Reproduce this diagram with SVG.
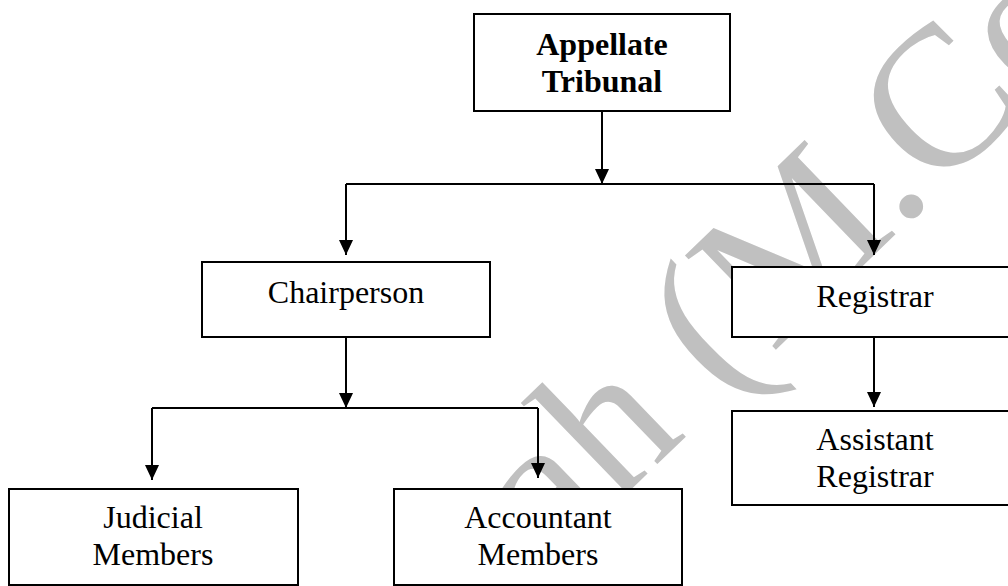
<svg xmlns="http://www.w3.org/2000/svg" width="1008" height="586" viewBox="0 0 1008 586">
<style>
.box{fill:#fff;stroke:#000;stroke-width:2}
.t{font-family:"Liberation Serif","Times New Roman",serif;font-size:32px;fill:#000;text-anchor:middle}
.b{font-weight:bold}
.c{fill:none;stroke:#000;stroke-width:2}
.wm{font-family:"Liberation Serif","Times New Roman",serif;font-size:200px;fill:#c0c0c0}
</style>
<defs>
<marker id="ah" viewBox="0 0 15 14" refX="15" refY="7" markerWidth="15" markerHeight="14" markerUnits="userSpaceOnUse" orient="auto">
<path d="M0,0 L15,7 L0,14 z" fill="#000"/>
</marker>
</defs>
<rect width="1008" height="586" fill="#fff"/>
<g id="watermark">
<text class="wm" transform="translate(552,566) rotate(-44)">ah (M.Co</text>
</g>
<g id="connectors">
<line class="c" x1="602" y1="111" x2="602" y2="184" marker-end="url(#ah)"/>
<polyline class="c" points="346,184 874,184"/>
<line class="c" x1="346" y1="184" x2="346" y2="255" marker-end="url(#ah)"/>
<line class="c" x1="874" y1="184" x2="874" y2="255" marker-end="url(#ah)"/>
<line class="c" x1="346" y1="337" x2="346" y2="408" marker-end="url(#ah)"/>
<polyline class="c" points="152,408 538,408"/>
<line class="c" x1="152" y1="408" x2="152" y2="480" marker-end="url(#ah)"/>
<line class="c" x1="538" y1="408" x2="538" y2="478" marker-end="url(#ah)"/>
<line class="c" x1="874" y1="337" x2="874" y2="407" marker-end="url(#ah)"/>
</g>
<g id="appellate">
<rect class="box" x="474" y="14" width="256" height="97"/>
<text class="t b" x="602" y="55">Appellate</text>
<text class="t b" x="602" y="92">Tribunal</text>
</g>
<g id="chairperson">
<rect class="box" x="202" y="262" width="288" height="75"/>
<text class="t" x="346" y="303">Chairperson</text>
</g>
<g id="registrar">
<rect class="box" x="732" y="267" width="286" height="70"/>
<text class="t" x="875" y="307">Registrar</text>
</g>
<g id="judicial">
<rect class="box" x="9" y="489" width="289" height="96"/>
<text class="t" x="153" y="528">Judicial</text>
<text class="t" x="153" y="565">Members</text>
</g>
<g id="accountant">
<rect class="box" x="394" y="489" width="288" height="96"/>
<text class="t" x="538" y="528">Accountant</text>
<text class="t" x="538" y="565">Members</text>
</g>
<g id="assistant">
<rect class="box" x="732" y="411" width="286" height="94"/>
<text class="t" x="875" y="450">Assistant</text>
<text class="t" x="875" y="487">Registrar</text>
</g>
</svg>
